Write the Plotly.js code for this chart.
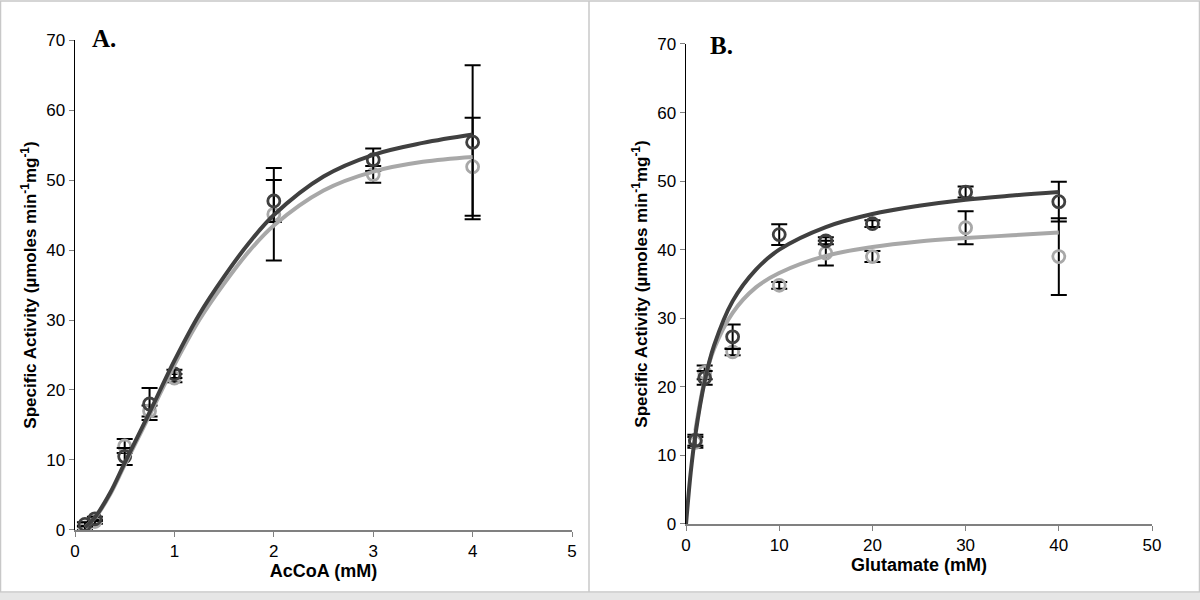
<!DOCTYPE html>
<html>
<head>
<meta charset="utf-8">
<script src="https://cdn.plot.ly/plotly-3.0.1.min.js"></script>
<style>html,body{margin:0;padding:0;background:#fff;}#chart{width:1200px;height:600px;}</style>
</head>
<body>
<div id="chart"></div>
<script>
// Panel A: AcCoA
const acX = [0.1, 0.2, 0.5, 0.75, 1, 2, 3, 4];
const acDark = [0.8, 1.6, 10.5, 18.0, 22.3, 47.0, 52.9, 55.4];
const acDarkErr = [0.3, 0.3, 1.2, 2.3, 0.6, 3.0, 1.6, 11.0];
const acLight = [0.3, 1.2, 12.0, 17.0, 21.7, 45.1, 50.8, 51.9];
const acLightErr = [0.3, 0.3, 1.0, 0.8, 0.6, 6.6, 1.2, 7.0];
const acFitX = [0.1, 0.2, 0.35, 0.5, 0.75, 1, 1.25, 1.5, 1.75, 2, 2.5, 3, 3.5, 4];
const acFitDark = [0.4, 1.8, 5.2, 9.6, 16.8, 24.2, 30.8, 36.2, 41.0, 45.0, 50.5, 53.6, 55.3, 56.5];
const acFitLight = [0.4, 1.7, 5.0, 9.3, 16.4, 23.6, 30.0, 35.2, 39.8, 43.5, 48.5, 51.2, 52.6, 53.3];

// Panel B: Glutamate
const glX = [1, 2, 5, 10, 15, 20, 30, 40];
const glDark = [12.2, 21.3, 27.3, 42.2, 41.3, 43.8, 48.4, 47.0];
const glDarkErr = [0.8, 1.0, 1.8, 1.5, 0.5, 0.5, 0.8, 2.9];
const glLight = [11.9, 22.1, 25.1, 34.8, 39.5, 39.0, 43.2, 39.0];
const glLightErr = [0.8, 1.0, 0.5, 0.5, 1.8, 0.8, 2.4, 5.6];
const glFitX = [0, 0.5, 1, 2, 3, 5, 7.5, 10, 15, 20, 25, 30, 35, 40];
const glFitDark = [0, 7.5, 13.0, 20.8, 26.0, 32.5, 37.1, 40.0, 43.3, 45.2, 46.4, 47.3, 47.9, 48.4];
const glFitLightX = [1, 2, 3, 5, 7.5, 10, 15, 20, 25, 30, 35, 40];
const glFitLight = [13.6, 21.0, 25.5, 30.8, 34.5, 36.6, 39.1, 40.4, 41.2, 41.7, 42.1, 42.5];

const darkCol = '#404040', lightCol = '#a8a8a8';

function pts(x, y, err, col, xa, ya) {
  return {x: x, y: y, xaxis: xa, yaxis: ya, type: 'scatter', mode: 'markers',
    marker: {symbol: 'circle-open', size: 12, color: col, line: {width: 2.8, color: col}},
    error_y: {type: 'data', array: err, visible: true, color: '#000', thickness: 2, width: 8},
    showlegend: false, hoverinfo: 'x+y'};
}
function fit(x, y, col, xa, ya) {
  return {x: x, y: y, xaxis: xa, yaxis: ya, type: 'scatter', mode: 'lines',
    line: {color: col, width: 4, shape: 'spline', smoothing: 1}, showlegend: false, hoverinfo: 'skip'};
}

const data = [
  pts(acX, acLight, acLightErr, lightCol, 'x', 'y'),
  pts(acX, acDark, acDarkErr, darkCol, 'x', 'y'),
  fit(acFitX, acFitLight, lightCol, 'x', 'y'),
  fit(acFitX, acFitDark, darkCol, 'x', 'y'),
  pts(glX, glLight, glLightErr, lightCol, 'x2', 'y2'),
  pts(glX, glDark, glDarkErr, darkCol, 'x2', 'y2'),
  fit(glFitLightX, glFitLight, lightCol, 'x2', 'y2'),
  fit(glFitX, glFitDark, darkCol, 'x2', 'y2')
];

const yTitle = '<b>Specific Activity (µmoles min<sup>-1</sup>mg<sup>-1</sup>)</b>';

function xAxis(domain, range, dtick, title, anchor) {
  return {domain: domain, range: range, dtick: dtick, tick0: 0, anchor: anchor,
    showgrid: false, zeroline: false, showline: true, linecolor: '#808080', linewidth: 2,
    ticks: 'outside', ticklen: 5, tickcolor: '#808080', tickwidth: 1,
    tickfont: {family: 'Liberation Sans', size: 17, color: '#000'},
    title: {text: title, font: {family: 'Liberation Sans', size: 18, color: '#000'}, standoff: 4}};
}
function yAxis(domain, anchor) {
  return {domain: domain, range: [0, 70], dtick: 10, tick0: 0, anchor: anchor,
    showgrid: false, zeroline: false, showline: true, linecolor: '#000', linewidth: 1.5,
    ticks: 'outside', ticklen: 5, tickcolor: '#808080', tickwidth: 1,
    tickfont: {family: 'Liberation Sans', size: 17, color: '#000'},
    title: {text: yTitle, font: {family: 'Liberation Sans', size: 17, color: '#000'}, standoff: 5}};
}

const layout = {
  width: 1200, height: 600,
  font: {family: 'Liberation Sans', size: 17, color: '#000'},
  margin: {l: 0, r: 0, t: 0, b: 0},
  paper_bgcolor: '#fff', plot_bgcolor: '#fff',
  xaxis: xAxis([0.0625, 0.4767], [0, 5], 1, '<b>AcCoA (mM)</b>', 'y'),
  yaxis: yAxis([0.1167, 0.9333], 'x'),
  xaxis2: xAxis([0.5717, 0.96], [0, 50], 10, '<b>Glutamate (mM)</b>', 'y2'),
  yaxis2: yAxis([0.1267, 0.9267], 'x2'),
  annotations: [
    {text: '<b>A.</b>', xref: 'paper', yref: 'paper', x: 90/1200, y: 1 - 23/600,
     showarrow: false, font: {family: 'Liberation Serif', size: 25, color: '#000'}},
    {text: '<b>B.</b>', xref: 'paper', yref: 'paper', x: 721/1200, y: 1 - 30/600,
     showarrow: false, font: {family: 'Liberation Serif', size: 25, color: '#000'}}
  ],
  shapes: [
    {type: 'rect', xref: 'paper', yref: 'paper', x0: 0.5/1200, x1: 1199.5/1200, y0: 1 - 592/600, y1: 1 - 1/600,
     line: {color: '#c8c8c8', width: 1.5}},
    {type: 'line', xref: 'paper', yref: 'paper', x0: 589/1200, x1: 589/1200, y0: 1 - 592/600, y1: 1 - 1/600,
     line: {color: '#c8c8c8', width: 1.5}},
    {type: 'rect', xref: 'paper', yref: 'paper', x0: 0, x1: 1, y0: 0, y1: 1 - 593/600,
     line: {width: 0}, fillcolor: '#e6e6e6'}
  ]
};

Plotly.newPlot('chart', data, layout, {displayModeBar: false, staticPlot: true});
</script>
</body>
</html>
